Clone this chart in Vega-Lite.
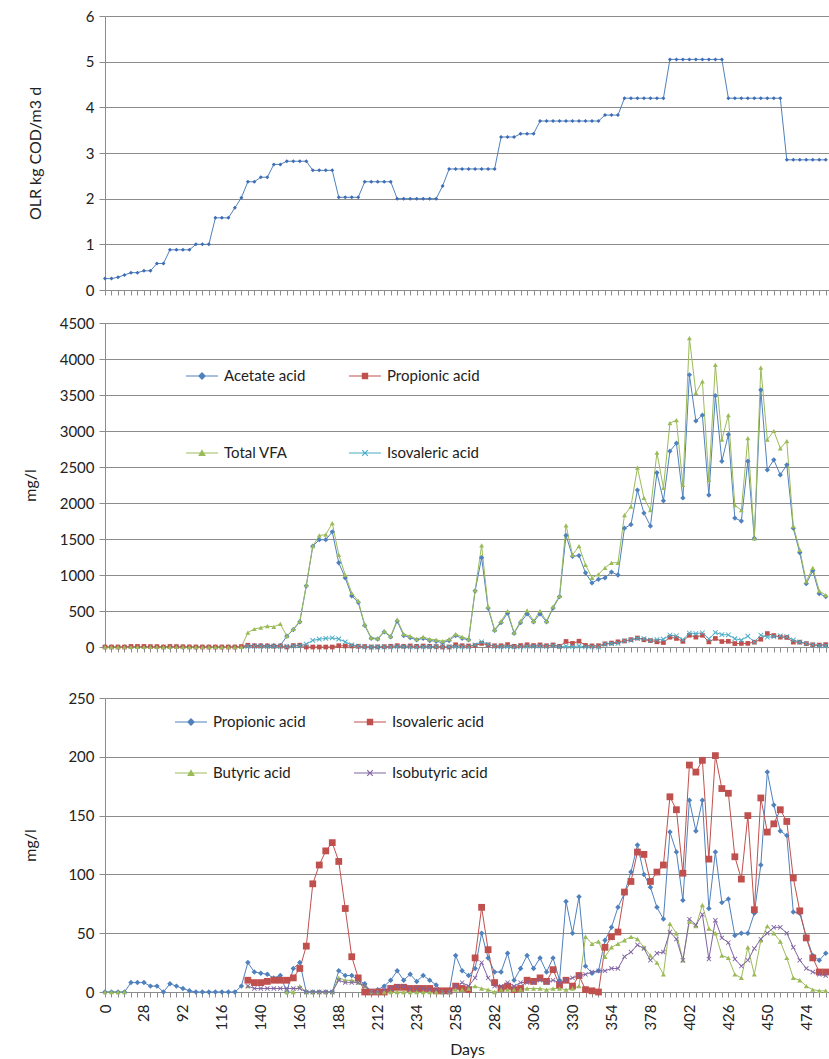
{
  "$schema": "https://vega.github.io/schema/vega-lite/v6.json",
  "padding": {"left": 22, "top": 9, "right": 0, "bottom": 0},
  "background": "white",
  "config": {
    "font": "Lato",
    "view": {"stroke": null},
    "axis": {
      "labelFont": "Lato", "labelFontSize": 15, "labelColor": "#222222",
      "titleFont": "Lato", "titleFontSize": 16, "titleFontWeight": "normal", "titleColor": "#222222",
      "gridColor": "#8c8c8c", "gridWidth": 1, "domainColor": "#8c8c8c", "tickColor": "#8c8c8c"
    }
  },
  "datasets": {
    "d": [
      {"i":0,"olr":0.25,"acetate":0,"tvfa":0,"propionic":0,"butyric":0},
      {"i":1,"olr":0.25,"acetate":0,"tvfa":0,"propionic":0,"butyric":0},
      {"i":2,"olr":0.28,"acetate":0,"tvfa":0,"propionic":0,"butyric":0},
      {"i":3,"olr":0.33,"acetate":0,"tvfa":0,"propionic":0,"butyric":0},
      {"i":4,"olr":0.38,"acetate":0,"tvfa":0,"propionic":8},
      {"i":5,"olr":0.38,"acetate":0,"tvfa":0,"propionic":8},
      {"i":6,"olr":0.42,"acetate":0,"tvfa":0,"propionic":8},
      {"i":7,"olr":0.42,"acetate":0,"tvfa":0,"propionic":5},
      {"i":8,"olr":0.58,"acetate":0,"tvfa":0,"propionic":5},
      {"i":9,"olr":0.58,"acetate":0,"tvfa":0,"propionic":0},
      {"i":10,"olr":0.88,"acetate":0,"tvfa":0,"propionic":7},
      {"i":11,"olr":0.88,"acetate":0,"tvfa":0,"propionic":5},
      {"i":12,"olr":0.88,"acetate":0,"tvfa":0,"propionic":3},
      {"i":13,"olr":0.88,"acetate":0,"tvfa":0,"propionic":1},
      {"i":14,"olr":1.0,"acetate":0,"tvfa":0,"propionic":0},
      {"i":15,"olr":1.0,"acetate":0,"tvfa":0,"propionic":0},
      {"i":16,"olr":1.0,"acetate":0,"tvfa":0,"propionic":0},
      {"i":17,"olr":1.58,"acetate":0,"tvfa":0,"propionic":0},
      {"i":18,"olr":1.58,"acetate":0,"tvfa":0,"propionic":0},
      {"i":19,"olr":1.58,"acetate":0,"tvfa":0,"propionic":0},
      {"i":20,"olr":1.8,"acetate":0,"tvfa":0,"propionic":0},
      {"i":21,"olr":2.02,"acetate":0,"tvfa":0,"propionic":5},
      {"i":22,"olr":2.37,"acetate":20,"tvfa":200,"propionic":25,"isovaleric":10,"butyric":5,"isobutyric":5},
      {"i":23,"olr":2.37,"acetate":20,"tvfa":250,"propionic":17,"isovaleric":8,"isobutyric":3},
      {"i":24,"olr":2.47,"acetate":20,"tvfa":270,"propionic":16,"isovaleric":8,"isobutyric":3},
      {"i":25,"olr":2.47,"acetate":20,"tvfa":290,"propionic":15,"isovaleric":9,"isobutyric":3},
      {"i":26,"olr":2.75,"acetate":20,"tvfa":280,"propionic":12,"isovaleric":10,"isobutyric":3},
      {"i":27,"olr":2.75,"acetate":20,"tvfa":320,"propionic":14,"isovaleric":10,"isobutyric":3},
      {"i":28,"olr":2.82,"acetate":150,"tvfa":150,"propionic":0,"isovaleric":10,"butyric":0,"isobutyric":3},
      {"i":29,"olr":2.82,"acetate":240,"tvfa":250,"propionic":20,"isovaleric":12,"butyric":0,"isobutyric":3},
      {"i":30,"olr":2.82,"acetate":350,"tvfa":360,"propionic":25,"isovaleric":20,"butyric":5,"isobutyric":3},
      {"i":31,"olr":2.82,"acetate":850,"tvfa":860,"propionic":0,"isovaleric":39,"butyric":0,"isobutyric":0},
      {"i":32,"olr":2.62,"acetate":1400,"tvfa":1400,"propionic":0,"isovaleric":92,"butyric":0,"isobutyric":0},
      {"i":33,"olr":2.62,"acetate":1490,"tvfa":1550,"propionic":0,"isovaleric":108,"butyric":0,"isobutyric":0},
      {"i":34,"olr":2.62,"acetate":1490,"tvfa":1560,"propionic":0,"isovaleric":120,"butyric":0,"isobutyric":0},
      {"i":35,"olr":2.62,"acetate":1600,"tvfa":1720,"propionic":0,"isovaleric":127,"butyric":0,"isobutyric":0},
      {"i":36,"olr":2.03,"acetate":1170,"tvfa":1280,"propionic":18,"isovaleric":111,"butyric":12,"isobutyric":10},
      {"i":37,"olr":2.03,"acetate":960,"tvfa":1000,"propionic":14,"isovaleric":71,"butyric":10,"isobutyric":8},
      {"i":38,"olr":2.03,"acetate":710,"tvfa":750,"propionic":14,"isovaleric":30,"butyric":10,"isobutyric":8},
      {"i":39,"olr":2.03,"acetate":620,"tvfa":640,"propionic":10,"isovaleric":12,"butyric":8,"isobutyric":8},
      {"i":40,"olr":2.37,"acetate":300,"tvfa":310,"propionic":7,"isovaleric":0,"butyric":5,"isobutyric":5},
      {"i":41,"olr":2.37,"acetate":120,"tvfa":130,"propionic":0,"isovaleric":0,"butyric":0,"isobutyric":0},
      {"i":42,"olr":2.37,"acetate":110,"tvfa":120,"propionic":2,"isovaleric":0,"butyric":0,"isobutyric":0},
      {"i":43,"olr":2.37,"acetate":210,"tvfa":220,"propionic":5,"isovaleric":0,"butyric":0,"isobutyric":2},
      {"i":44,"olr":2.37,"acetate":140,"tvfa":150,"propionic":10,"isovaleric":3,"butyric":0,"isobutyric":3},
      {"i":45,"olr":2.0,"acetate":360,"tvfa":380,"propionic":18,"isovaleric":4,"butyric":0,"isobutyric":5},
      {"i":46,"olr":2.0,"acetate":160,"tvfa":180,"propionic":10,"isovaleric":4,"butyric":0,"isobutyric":5},
      {"i":47,"olr":2.0,"acetate":130,"tvfa":150,"propionic":15,"isovaleric":3,"butyric":0,"isobutyric":3},
      {"i":48,"olr":2.0,"acetate":100,"tvfa":110,"propionic":9,"isovaleric":3,"butyric":0,"isobutyric":3},
      {"i":49,"olr":2.0,"acetate":120,"tvfa":140,"propionic":14,"isovaleric":3,"butyric":0,"isobutyric":3},
      {"i":50,"olr":2.0,"acetate":90,"tvfa":110,"propionic":10,"isovaleric":3,"butyric":0,"isobutyric":2},
      {"i":51,"olr":2.0,"acetate":80,"tvfa":100,"propionic":6,"isovaleric":1,"butyric":0,"isobutyric":2},
      {"i":52,"olr":2.28,"acetate":60,"tvfa":80,"propionic":0,"isovaleric":1,"butyric":0,"isobutyric":0},
      {"i":53,"olr":2.65,"acetate":90,"tvfa":110,"propionic":0,"isovaleric":1,"butyric":0,"isobutyric":0},
      {"i":54,"olr":2.65,"acetate":160,"tvfa":180,"propionic":31,"isovaleric":5,"butyric":2,"isobutyric":5},
      {"i":55,"olr":2.65,"acetate":120,"tvfa":140,"propionic":18,"isovaleric":3,"butyric":2,"isobutyric":8},
      {"i":56,"olr":2.65,"acetate":100,"tvfa":110,"propionic":14,"isovaleric":2,"butyric":3,"isobutyric":5},
      {"i":57,"olr":2.65,"acetate":780,"tvfa":790,"propionic":20,"isovaleric":29,"butyric":5,"isobutyric":12},
      {"i":58,"olr":2.65,"acetate":1240,"tvfa":1410,"propionic":50,"isovaleric":72,"butyric":3,"isobutyric":25},
      {"i":59,"olr":2.65,"acetate":540,"tvfa":560,"propionic":29,"isovaleric":36,"butyric":2,"isobutyric":12},
      {"i":60,"olr":2.65,"acetate":230,"tvfa":240,"propionic":17,"isovaleric":8,"butyric":0,"isobutyric":5},
      {"i":61,"olr":3.35,"acetate":340,"tvfa":360,"propionic":17,"isovaleric":3,"butyric":2,"isobutyric":5},
      {"i":62,"olr":3.35,"acetate":470,"tvfa":500,"propionic":33,"isovaleric":5,"butyric":2,"isobutyric":8},
      {"i":63,"olr":3.35,"acetate":190,"tvfa":200,"propionic":10,"isovaleric":2,"butyric":2,"isobutyric":5},
      {"i":64,"olr":3.42,"acetate":340,"tvfa":360,"propionic":20,"isovaleric":3,"butyric":2,"isobutyric":8},
      {"i":65,"olr":3.42,"acetate":460,"tvfa":510,"propionic":31,"isovaleric":10,"butyric":3,"isobutyric":8},
      {"i":66,"olr":3.42,"acetate":350,"tvfa":360,"propionic":20,"isovaleric":9,"butyric":3,"isobutyric":8},
      {"i":67,"olr":3.7,"acetate":460,"tvfa":500,"propionic":29,"isovaleric":12,"butyric":3,"isobutyric":10},
      {"i":68,"olr":3.7,"acetate":350,"tvfa":360,"propionic":17,"isovaleric":9,"butyric":2,"isobutyric":8},
      {"i":69,"olr":3.7,"acetate":540,"tvfa":560,"propionic":29,"isovaleric":19,"butyric":3,"isobutyric":10},
      {"i":70,"olr":3.7,"acetate":700,"tvfa":710,"propionic":10,"isovaleric":6,"butyric":3,"isobutyric":8},
      {"i":71,"olr":3.7,"acetate":1550,"tvfa":1690,"propionic":77,"isovaleric":10,"butyric":2,"isobutyric":10},
      {"i":72,"olr":3.7,"acetate":1260,"tvfa":1280,"propionic":50,"isovaleric":5,"butyric":3,"isobutyric":12},
      {"i":73,"olr":3.7,"acetate":1270,"tvfa":1400,"propionic":81,"isovaleric":14,"butyric":5,"isobutyric":14},
      {"i":74,"olr":3.7,"acetate":1030,"tvfa":1140,"propionic":22,"isovaleric":2,"butyric":47,"isobutyric":15},
      {"i":75,"olr":3.7,"acetate":890,"tvfa":960,"propionic":16,"isovaleric":1,"butyric":41,"isobutyric":17},
      {"i":76,"olr":3.7,"acetate":940,"tvfa":1010,"propionic":18,"isovaleric":0,"butyric":43,"isobutyric":18},
      {"i":77,"olr":3.83,"acetate":960,"tvfa":1100,"propionic":44,"isovaleric":38,"butyric":30,"isobutyric":18},
      {"i":78,"olr":3.83,"acetate":1040,"tvfa":1170,"propionic":55,"isovaleric":47,"butyric":38,"isobutyric":20},
      {"i":79,"olr":3.83,"acetate":1000,"tvfa":1170,"propionic":72,"isovaleric":51,"butyric":41,"isobutyric":20},
      {"i":80,"olr":4.2,"acetate":1650,"tvfa":1830,"propionic":84,"isovaleric":85,"butyric":44,"isobutyric":30},
      {"i":81,"olr":4.2,"acetate":1700,"tvfa":1950,"propionic":102,"isovaleric":94,"butyric":47,"isobutyric":34},
      {"i":82,"olr":4.2,"acetate":2180,"tvfa":2490,"propionic":125,"isovaleric":119,"butyric":45,"isobutyric":40},
      {"i":83,"olr":4.2,"acetate":1860,"tvfa":2070,"propionic":100,"isovaleric":117,"butyric":38,"isobutyric":37},
      {"i":84,"olr":4.2,"acetate":1680,"tvfa":1900,"propionic":89,"isovaleric":94,"butyric":31,"isobutyric":27},
      {"i":85,"olr":4.2,"acetate":2420,"tvfa":2700,"propionic":72,"isovaleric":102,"butyric":25,"isobutyric":33},
      {"i":86,"olr":4.2,"acetate":2030,"tvfa":2210,"propionic":62,"isovaleric":108,"butyric":15,"isobutyric":34},
      {"i":87,"olr":5.05,"acetate":2720,"tvfa":3110,"propionic":136,"isovaleric":166,"butyric":58,"isobutyric":51},
      {"i":88,"olr":5.05,"acetate":2830,"tvfa":3150,"propionic":119,"isovaleric":155,"butyric":50,"isobutyric":45},
      {"i":89,"olr":5.05,"acetate":2070,"tvfa":2250,"propionic":78,"isovaleric":101,"butyric":27,"isobutyric":27},
      {"i":90,"olr":5.05,"acetate":3780,"tvfa":4290,"propionic":163,"isovaleric":193,"butyric":60,"isobutyric":62},
      {"i":91,"olr":5.05,"acetate":3140,"tvfa":3530,"propionic":137,"isovaleric":187,"butyric":56,"isobutyric":57},
      {"i":92,"olr":5.05,"acetate":3220,"tvfa":3690,"propionic":163,"isovaleric":197,"butyric":74,"isobutyric":66},
      {"i":93,"olr":5.05,"acetate":2110,"tvfa":2320,"propionic":71,"isovaleric":113,"butyric":54,"isobutyric":28},
      {"i":94,"olr":5.05,"acetate":3490,"tvfa":3920,"propionic":119,"isovaleric":201,"butyric":50,"isobutyric":61},
      {"i":95,"olr":5.05,"acetate":2580,"tvfa":2880,"propionic":76,"isovaleric":173,"butyric":31,"isobutyric":46},
      {"i":96,"olr":4.2,"acetate":2950,"tvfa":3220,"propionic":79,"isovaleric":169,"butyric":29,"isobutyric":42},
      {"i":97,"olr":4.2,"acetate":1790,"tvfa":1970,"propionic":48,"isovaleric":115,"butyric":15,"isobutyric":28},
      {"i":98,"olr":4.2,"acetate":1750,"tvfa":1900,"propionic":50,"isovaleric":96,"butyric":12,"isobutyric":22},
      {"i":99,"olr":4.2,"acetate":2580,"tvfa":2900,"propionic":50,"isovaleric":150,"butyric":38,"isobutyric":27},
      {"i":100,"olr":4.2,"acetate":1510,"tvfa":1510,"propionic":67,"isovaleric":70,"butyric":15,"isobutyric":37},
      {"i":101,"olr":4.2,"acetate":3570,"tvfa":3880,"propionic":108,"isovaleric":165,"butyric":44,"isobutyric":45},
      {"i":102,"olr":4.2,"acetate":2460,"tvfa":2880,"propionic":187,"isovaleric":136,"butyric":56,"isobutyric":50},
      {"i":103,"olr":4.2,"acetate":2600,"tvfa":3000,"propionic":159,"isovaleric":143,"butyric":50,"isobutyric":55},
      {"i":104,"olr":4.2,"acetate":2390,"tvfa":2760,"propionic":137,"isovaleric":155,"butyric":43,"isobutyric":55},
      {"i":105,"olr":2.85,"acetate":2530,"tvfa":2860,"propionic":133,"isovaleric":145,"butyric":29,"isobutyric":50},
      {"i":106,"olr":2.85,"acetate":1650,"tvfa":1680,"propionic":68,"isovaleric":97,"butyric":12,"isobutyric":38},
      {"i":107,"olr":2.85,"acetate":1310,"tvfa":1350,"propionic":67,"isovaleric":69,"butyric":10,"isobutyric":27},
      {"i":108,"olr":2.85,"acetate":880,"tvfa":910,"propionic":47,"isovaleric":46,"butyric":5,"isobutyric":20},
      {"i":109,"olr":2.85,"acetate":1060,"tvfa":1100,"propionic":31,"isovaleric":29,"butyric":2,"isobutyric":17},
      {"i":110,"olr":2.85,"acetate":740,"tvfa":780,"propionic":27,"isovaleric":17,"butyric":1,"isobutyric":15},
      {"i":111,"olr":2.85,"acetate":700,"tvfa":720,"propionic":33,"isovaleric":17,"butyric":1,"isobutyric":14}
    ]
  },
  "data": {"name": "d"},
  "spacing": 36,
  "resolve": {"scale": {"color": "independent"}, "legend": {"color": "independent"}},
  "vconcat": [
    {
      "spacing": 18,
      "resolve": {"scale": {"color": "independent"}, "legend": {"color": "independent"}},
      "vconcat": [
        {
          "width": 724,
          "height": 274,
          "encoding": {
            "x": {"field": "i", "type": "quantitative", "scale": {"domain": [0, 111.5], "nice": false, "zero": false},
              "axis": {"values": [0,1,2,3,4,5,6,7,8,9,10,11,12,13,14,15,16,17,18,19,20,21,22,23,24,25,26,27,28,29,30,31,32,33,34,35,36,37,38,39,40,41,42,43,44,45,46,47,48,49,50,51,52,53,54,55,56,57,58,59,60,61,62,63,64,65,66,67,68,69,70,71,72,73,74,75,76,77,78,79,80,81,82,83,84,85,86,87,88,89,90,91,92,93,94,95,96,97,98,99,100,101,102,103,104,105,106,107,108,109,110,111],
                "labels": false, "grid": false, "tickSize": 5, "title": null}},
            "y": {"field": "olr", "type": "quantitative", "scale": {"domain": [0, 6], "nice": false},
              "axis": {"values": [0,1,2,3,4,5,6], "format": "d", "title": "OLR kg COD/m3 d", "titleX": -62, "tickSize": 6, "labelPadding": 5}}
          },
          "layer": [
            {"mark": {"type": "line", "color": "#4F81BD", "strokeWidth": 1}},
            {"mark": {"type": "point", "shape": "diamond", "filled": true, "color": "#3E6DB5", "size": 16, "opacity": 1}}
          ]
        },
        {
          "width": 724,
          "height": 324,
          "transform": [{"fold": ["acetate", "propionic", "tvfa", "isovaleric"], "as": ["series", "value"]}],
          "encoding": {
            "x": {"field": "i", "type": "quantitative", "scale": {"domain": [0, 111.5], "nice": false, "zero": false},
              "axis": {"values": [0,1,2,3,4,5,6,7,8,9,10,11,12,13,14,15,16,17,18,19,20,21,22,23,24,25,26,27,28,29,30,31,32,33,34,35,36,37,38,39,40,41,42,43,44,45,46,47,48,49,50,51,52,53,54,55,56,57,58,59,60,61,62,63,64,65,66,67,68,69,70,71,72,73,74,75,76,77,78,79,80,81,82,83,84,85,86,87,88,89,90,91,92,93,94,95,96,97,98,99,100,101,102,103,104,105,106,107,108,109,110,111],
                "labels": false, "grid": false, "tickSize": 5, "title": null}},
            "y": {"field": "value", "type": "quantitative", "scale": {"domain": [0, 4500], "nice": false},
              "axis": {"values": [0,500,1000,1500,2000,2500,3000,3500,4000,4500], "format": "d", "title": "mg/l", "titleX": -67, "tickSize": 6, "labelPadding": 5}},
            "color": {"field": "series", "type": "nominal",
              "scale": {"domain": ["acetate", "propionic", "tvfa", "isovaleric"], "range": ["#4F81BD", "#C0504D", "#9BBB59", "#4BACC6"]},
              "legend": {
                "orient": "none", "legendX": 81, "legendY": 37, "columns": 2, "direction": "horizontal", "title": null,
                "symbolSize": 1024, "symbolStrokeWidth": 0, "symbolOpacity": 1,
                "labelFont": "Lato", "labelFontSize": 15, "labelColor": "#222222", "labelOffset": 6,
                "columnPadding": 43, "rowPadding": 53,
                "labelExpr": "datum.label === 'acetate' ? 'Acetate acid' : datum.label === 'propionic' ? 'Propionic acid' : datum.label === 'tvfa' ? 'Total VFA' : 'Isovaleric acid'",
                "encode": {"symbols": {"update": {
                  "shape": {"signal": "datum.value === 'acetate' ? 'M-1,-0.035H1V0.035H-1ZM-0.25,0L0,-0.25L0.25,0L0,0.25Z' : datum.value === 'propionic' ? 'M-1,-0.035H1V0.035H-1ZM-0.2,-0.2H0.2V0.2H-0.2Z' : datum.value === 'tvfa' ? 'M-1,-0.035H1V0.035H-1ZM0,-0.24L0.24,0.18H-0.24Z' : 'M-1,-0.035H1V0.035H-1ZM-0.2,-0.15L-0.15,-0.2L0,-0.05L0.15,-0.2L0.2,-0.15L0.05,0L0.2,0.15L0.15,0.2L0,0.05L-0.15,0.2L-0.2,0.15L-0.05,0Z'"},
                  "fill": {"signal": "datum.value === 'acetate' ? '#4F81BD' : datum.value === 'propionic' ? '#C0504D' : datum.value === 'tvfa' ? '#9BBB59' : '#4BACC6'"},
                  "stroke": {"value": "transparent"},
                  "opacity": {"value": 1}
                }}}
              }}
          },
          "layer": [
            {"mark": {"type": "line", "strokeWidth": 1}},
            {"transform": [{"filter": "datum.series === 'acetate'"}], "mark": {"type": "point", "shape": "diamond", "filled": true, "size": 28, "opacity": 1}},
            {"transform": [{"filter": "datum.series === 'propionic'"}], "mark": {"type": "point", "shape": "square", "filled": true, "size": 22, "opacity": 1}},
            {"transform": [{"filter": "datum.series === 'tvfa'"}], "mark": {"type": "point", "shape": "triangle-up", "filled": true, "size": 24, "opacity": 1}},
            {"transform": [{"filter": "datum.series === 'isovaleric'"}], "mark": {"type": "point", "shape": "M-1,-0.75L-0.75,-1L0,-0.25L0.75,-1L1,-0.75L0.25,0L1,0.75L0.75,1L0,0.25L-0.75,1L-1,0.75L-0.25,0Z", "filled": true, "size": 28, "opacity": 1}}
          ]
        }
      ]
    },
    {
      "width": 724,
      "height": 294,
      "transform": [{"fold": ["propionic", "isovaleric", "butyric", "isobutyric"], "as": ["series", "value"]}],
      "encoding": {
        "x": {"field": "i", "type": "quantitative", "scale": {"domain": [0, 111.5], "nice": false, "zero": false},
          "axis": {"values": [0,1,2,3,4,5,6,7,8,9,10,11,12,13,14,15,16,17,18,19,20,21,22,23,24,25,26,27,28,29,30,31,32,33,34,35,36,37,38,39,40,41,42,43,44,45,46,47,48,49,50,51,52,53,54,55,56,57,58,59,60,61,62,63,64,65,66,67,68,69,70,71,72,73,74,75,76,77,78,79,80,81,82,83,84,85,86,87,88,89,90,91,92,93,94,95,96,97,98,99,100,101,102,103,104,105,106,107,108,109,110,111],
            "grid": false, "tickSize": 5, "title": "Days", "labelAngle": 270, "labelOverlap": false, "labelFlush": false, "labelPadding": 7, "titlePadding": 11,
            "labelExpr": "datum.value % 6 === 0 && datum.value <= 108 ? ['0','28','92','116','140','160','188','212','234','258','282','306','330','354','378','402','426','450','474'][datum.value / 6] : ''"}},
        "y": {"field": "value", "type": "quantitative", "scale": {"domain": [0, 250], "nice": false},
          "axis": {"values": [0,50,100,150,200,250], "format": "d", "title": "mg/l", "titleX": -67, "tickSize": 6, "labelPadding": 5}},
        "color": {"field": "series", "type": "nominal",
          "scale": {"domain": ["propionic", "isovaleric", "butyric", "isobutyric"], "range": ["#4F81BD", "#C0504D", "#9BBB59", "#8064A2"]},
          "legend": {
            "orient": "none", "legendX": 70, "legendY": 8, "columns": 2, "direction": "horizontal", "title": null,
            "symbolSize": 1024, "symbolStrokeWidth": 0, "symbolOpacity": 1,
            "labelFont": "Lato", "labelFontSize": 15, "labelColor": "#222222", "labelOffset": 6,
            "columnPadding": 48, "rowPadding": 27,
            "labelExpr": "datum.label === 'propionic' ? 'Propionic acid' : datum.label === 'isovaleric' ? 'Isovaleric acid' : datum.label === 'butyric' ? 'Butyric acid' : 'Isobutyric acid'",
            "encode": {"symbols": {"update": {
              "shape": {"signal": "datum.value === 'propionic' ? 'M-1,-0.035H1V0.035H-1ZM-0.25,0L0,-0.25L0.25,0L0,0.25Z' : datum.value === 'isovaleric' ? 'M-1,-0.035H1V0.035H-1ZM-0.2,-0.2H0.2V0.2H-0.2Z' : datum.value === 'butyric' ? 'M-1,-0.035H1V0.035H-1ZM0,-0.24L0.24,0.18H-0.24Z' : 'M-1,-0.035H1V0.035H-1ZM-0.2,-0.15L-0.15,-0.2L0,-0.05L0.15,-0.2L0.2,-0.15L0.05,0L0.2,0.15L0.15,0.2L0,0.05L-0.15,0.2L-0.2,0.15L-0.05,0Z'"},
              "fill": {"signal": "datum.value === 'propionic' ? '#4F81BD' : datum.value === 'isovaleric' ? '#C0504D' : datum.value === 'butyric' ? '#9BBB59' : '#8064A2'"},
              "stroke": {"value": "transparent"},
              "opacity": {"value": 1}
            }}}
          }}
      },
      "layer": [
        {"mark": {"type": "line", "strokeWidth": 1}},
        {"transform": [{"filter": "datum.series === 'propionic'"}], "mark": {"type": "point", "shape": "diamond", "filled": true, "size": 30, "opacity": 1}},
        {"transform": [{"filter": "datum.series === 'isovaleric'"}], "mark": {"type": "point", "shape": "square", "filled": true, "size": 46, "opacity": 1}},
        {"transform": [{"filter": "datum.series === 'butyric'"}], "mark": {"type": "point", "shape": "triangle-up", "filled": true, "size": 26, "opacity": 1}},
        {"transform": [{"filter": "datum.series === 'isobutyric'"}], "mark": {"type": "point", "shape": "M-1,-0.75L-0.75,-1L0,-0.25L0.75,-1L1,-0.75L0.25,0L1,0.75L0.75,1L0,0.25L-0.75,1L-1,0.75L-0.25,0Z", "filled": true, "size": 24, "opacity": 1}}
      ]
    }
  ]
}
